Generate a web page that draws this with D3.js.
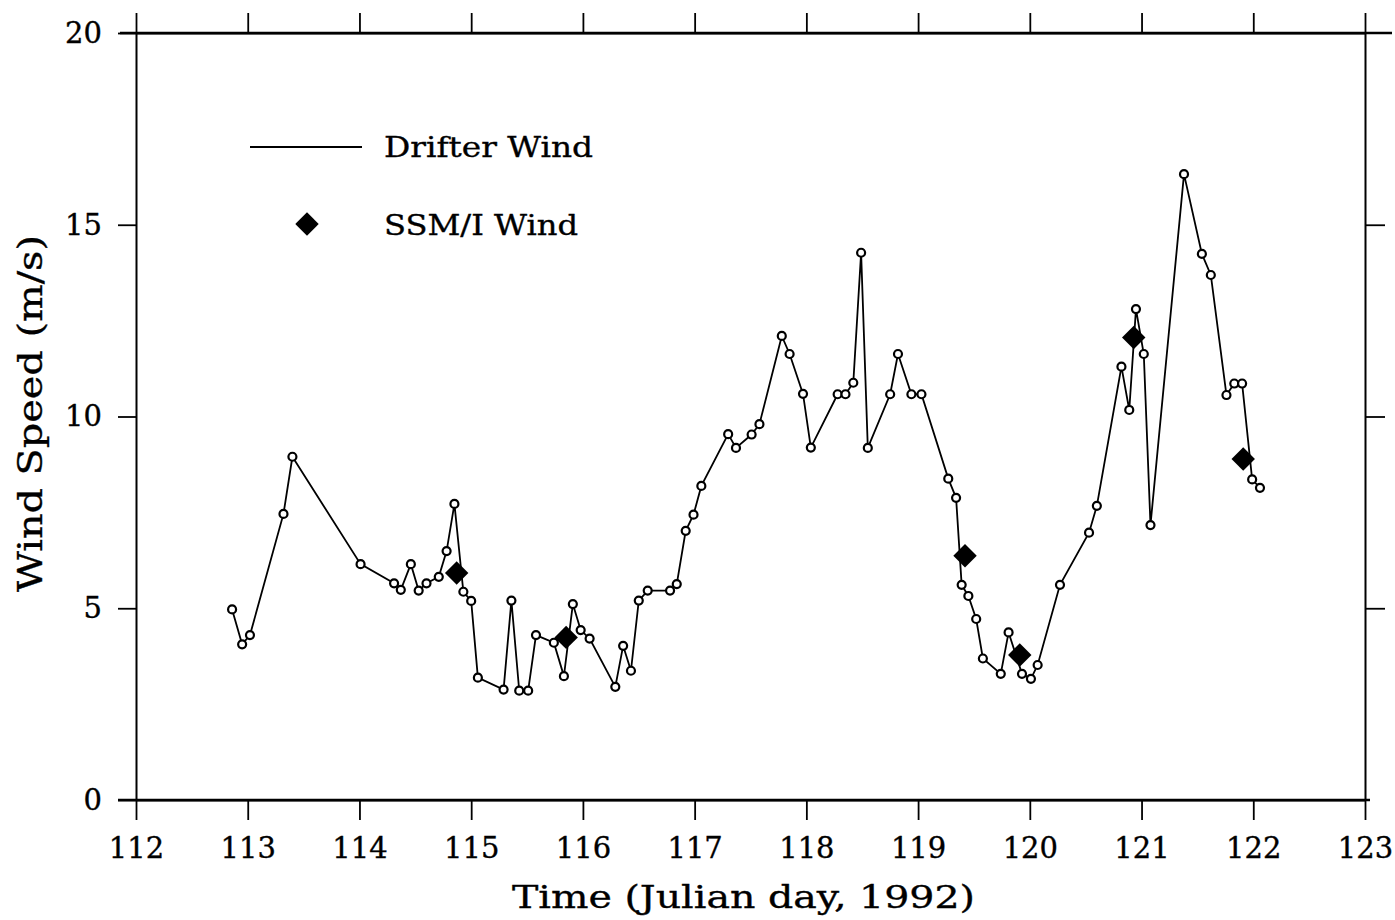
<!DOCTYPE html>
<html>
<head>
<meta charset="utf-8">
<script src="https://cdn.jsdelivr.net/npm/d3@7"></script>
<style>
  body { margin: 0; background: #fff; }
  text { font-family: "DejaVu Serif", "Liberation Serif", serif; fill: #000; stroke: #000; stroke-width: 0.35px; }
</style>
</head>
<body>
<script>
var w = 1395, h = 920;
var margin = { top: 33, bottom: 120, left: 136, right: 29 };

// drifter wind, Julian day and speed (m/s)
var drifterDay = [112.86, 112.95, 113.02, 113.32, 113.40, 114.01, 114.31, 114.37, 114.46, 114.53,
  114.60, 114.71, 114.78, 114.85, 114.93, 115.00, 115.06, 115.29, 115.36, 115.43,
  115.51, 115.58, 115.74, 115.83, 115.91, 115.98, 116.06, 116.29, 116.36, 116.43,
  116.50, 116.58, 116.78, 116.84, 116.92, 116.99, 117.06, 117.30, 117.37, 117.51,
  117.58, 117.78, 117.85, 117.97, 118.04, 118.28, 118.35, 118.42, 118.49, 118.55,
  118.75, 118.82, 118.94, 119.03, 119.27, 119.34, 119.39, 119.45, 119.52, 119.58,
  119.74, 119.81, 119.93, 120.01, 120.07, 120.27, 120.53, 120.60, 120.82, 120.89,
  120.95, 121.02, 121.08, 121.38, 121.54, 121.62, 121.76, 121.83, 121.90, 121.99, 122.06];
var drifterSpeed = [4.97, 4.06, 4.30, 7.46, 8.95, 6.15, 5.65, 5.48, 6.15, 5.46,
  5.65, 5.82, 6.49, 7.72, 5.43, 5.19, 3.19, 2.88, 5.20, 2.85,
  2.85, 4.30, 4.10, 3.23, 5.11, 4.43, 4.21, 2.95, 4.02, 3.37,
  5.20, 5.46, 5.46, 5.63, 7.02, 7.44, 8.19, 9.54, 9.18, 9.53,
  9.80, 12.10, 11.63, 10.59, 9.19, 10.58, 10.58, 10.88, 14.27, 9.18,
  10.58, 11.63, 10.58, 10.58, 8.38, 7.88, 5.61, 5.32, 4.72, 3.69,
  3.29, 4.37, 3.29, 3.16, 3.52, 5.61, 6.97, 7.67, 11.30, 10.17,
  12.80, 11.63, 7.17, 16.32, 14.24, 13.69, 10.56, 10.86, 10.86, 8.36, 8.14];

// SSM/I wind
var ssmiDay = [114.87, 115.85, 119.42, 119.91, 120.93, 121.91];
var ssmiSpeed = [5.92, 4.24, 6.37, 3.78, 12.06, 8.89];

var xTicks = [112, 113, 114, 115, 116, 117, 118, 119, 120, 121, 122, 123];
var yTicks = [0, 5, 10, 15, 20];

var svg = d3.select("body").append("svg")
    .attr("width", w)
    .attr("height", h);

var xScale = d3.scaleLinear().domain([112, 123]).range([margin.left, w - margin.right - 1]);
var yScale = d3.scaleLinear().domain([0, 20]).range([h - margin.bottom, margin.top]);

var x0 = xScale.range()[0], x1 = xScale.range()[1];
var y0 = yScale.range()[0], y1 = yScale.range()[1];

// frame extensions past the axes
svg.append("line").attr("x1", 120).attr("x2", 1392).attr("y1", y1).attr("y2", y1)
  .attr("stroke", "#000").attr("stroke-width", 2.4);
svg.append("line").attr("x1", 118).attr("x2", 1370).attr("y1", y0).attr("y2", y0)
  .attr("stroke", "#000").attr("stroke-width", 2.4);

function styleAxis(g) {
  g.attr("font-family", null);
  g.selectAll("path, line").attr("stroke", "#000").attr("stroke-width", 1.8);
  g.select(".domain").attr("stroke-width", 2);
  g.selectAll("text").attr("font-size", 29).attr("fill", "#000");
}

// bottom
svg.append("g")
  .attr("transform", "translate(0," + y0 + ")")
  .call(d3.axisBottom(xScale).tickValues(xTicks).tickSize(20).tickSizeOuter(0).tickPadding(17))
  .call(styleAxis);

// top
svg.append("g")
  .attr("transform", "translate(0," + y1 + ")")
  .call(d3.axisTop(xScale).tickValues(xTicks).tickSize(20).tickSizeOuter(0).tickFormat(""))
  .call(styleAxis);

// left
svg.append("g")
  .attr("transform", "translate(" + x0 + ",0)")
  .call(d3.axisLeft(yScale).tickValues(yTicks).tickSize(18).tickSizeOuter(0).tickPadding(16))
  .call(styleAxis);

// right
svg.append("g")
  .attr("transform", "translate(" + x1 + ",0)")
  .call(d3.axisRight(yScale).tickValues(yTicks.slice(1, 4)).tickSize(20).tickSizeOuter(0).tickFormat(""))
  .call(styleAxis);

// axis titles
svg.append("text")
  .attr("x", 512)
  .attr("y", 908)
  .attr("font-size", 32)
  .attr("textLength", 463)
  .attr("lengthAdjust", "spacingAndGlyphs")
  .text("Time (Julian day, 1992)");

svg.append("text")
  .attr("transform", "translate(42,592) rotate(-90)")
  .attr("font-size", 34)
  .attr("textLength", 357)
  .attr("lengthAdjust", "spacingAndGlyphs")
  .text("Wind Speed (m/s)");

// drifter line
var drifter = drifterDay.map(function(d, i) { return [d, drifterSpeed[i]]; });
var ssmi = ssmiDay.map(function(d, i) { return [d, ssmiSpeed[i]]; });

var line = d3.line()
  .x(function(d) { return xScale(d[0]); })
  .y(function(d) { return yScale(d[1]); });

svg.append("path")
  .datum(drifter)
  .attr("d", line)
  .attr("fill", "none")
  .attr("stroke", "#000")
  .attr("stroke-width", 1.8);

svg.selectAll("circle.pt").data(drifter).enter().append("circle")
  .attr("class", "pt")
  .attr("cx", function(d) { return xScale(d[0]); })
  .attr("cy", function(d) { return yScale(d[1]); })
  .attr("r", 4)
  .attr("fill", "#fff")
  .attr("stroke", "#000")
  .attr("stroke-width", 2.2);

var diamond = d3.symbol().type(d3.symbolDiamond2).size(350);
svg.selectAll("path.ssmi").data(ssmi).enter().append("path")
  .attr("class", "ssmi")
  .attr("d", diamond)
  .attr("transform", function(d) { return "translate(" + xScale(d[0]) + "," + yScale(d[1]) + ")"; })
  .attr("fill", "#000");

// legend
svg.append("line").attr("x1", 250).attr("x2", 362).attr("y1", 147).attr("y2", 147)
  .attr("stroke", "#000").attr("stroke-width", 1.9);
svg.append("text").attr("x", 384).attr("y", 157).attr("font-size", 28)
  .attr("textLength", 209).attr("lengthAdjust", "spacingAndGlyphs").text("Drifter Wind");
svg.append("path").attr("d", diamond).attr("transform", "translate(307,224)").attr("fill", "#000");
svg.append("text").attr("x", 384).attr("y", 235).attr("font-size", 28)
  .attr("textLength", 194).attr("lengthAdjust", "spacingAndGlyphs").text("SSM/I Wind");
</script>
</body>
</html>
